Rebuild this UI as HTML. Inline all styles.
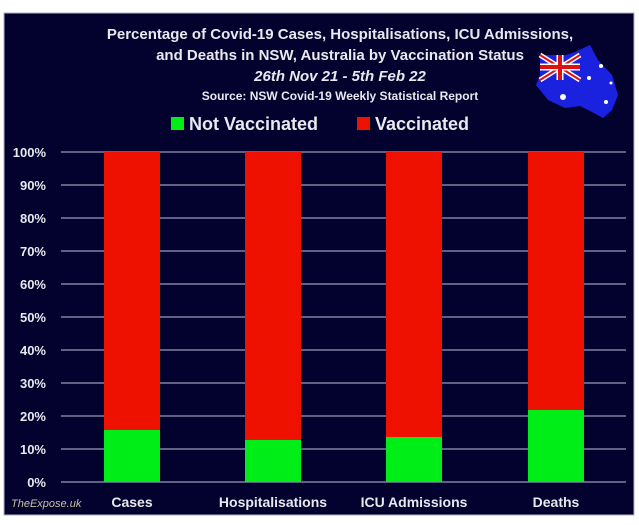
<!DOCTYPE html>
<html><head><style>
body{margin:0;background:#fff;width:639px;height:520px;overflow:hidden;font-family:"Liberation Sans",sans-serif}
</style></head><body>
<svg width="639" height="520" xmlns="http://www.w3.org/2000/svg" font-family="Liberation Sans, sans-serif">
<rect x="4" y="13" width="630" height="502" fill="#03022e" stroke="#b0b0c0" stroke-width="1"/>
<g fill="#e8e8ee" text-anchor="middle" font-weight="bold">
<text x="340" y="39" font-size="15">Percentage of Covid-19 Cases, Hospitalisations, ICU Admissions,</text>
<text x="340" y="60" font-size="15">and Deaths in NSW, Australia by Vaccination Status</text>
<text x="340" y="81" font-size="15" font-style="italic">26th Nov 21 - 5th Feb 22</text>
<text x="340" y="100" font-size="12">Source: NSW Covid-19 Weekly Statistical Report</text>
</g>
<rect x="171" y="117" width="13" height="13" fill="#00ee18"/>
<text x="189" y="130" font-size="18" font-weight="bold" fill="#e8e8ee">Not Vaccinated</text>
<rect x="357" y="117" width="13" height="13" fill="#ee1100"/>
<text x="375" y="130" font-size="18" font-weight="bold" fill="#e8e8ee">Vaccinated</text>
<!-- flag/map -->
<path d="M545 62 L575 52 L590 45 L598 60 L612 75 L618 95 L612 110 L603 118 L592 112 L580 106 L565 108 L548 100 L536 85 Z" fill="#1a22e0"/>
<rect x="540" y="55" width="40" height="25" fill="#1a22e0"/>
<path d="M540 55 L580 80 M580 55 L540 80" stroke="#fff" stroke-width="5"/>
<path d="M540 55 L580 80 M580 55 L540 80" stroke="#e01010" stroke-width="2"/>
<path d="M560 55 V80 M540 67 H580" stroke="#fff" stroke-width="7"/>
<path d="M560 55 V80 M540 67 H580" stroke="#e01010" stroke-width="4"/>
<g fill="#fff"><circle cx="563" cy="97" r="3"/><circle cx="601" cy="66" r="2"/><circle cx="589" cy="78" r="2"/><circle cx="611" cy="83" r="1.5"/><circle cx="606" cy="102" r="2"/></g>
<g stroke="#8080a0" stroke-width="1.5">
<line x1="61" x2="626" y1="152" y2="152"/><line x1="61" x2="626" y1="185" y2="185"/>
<line x1="61" x2="626" y1="218" y2="218"/><line x1="61" x2="626" y1="251" y2="251"/>
<line x1="61" x2="626" y1="284" y2="284"/><line x1="61" x2="626" y1="317" y2="317"/>
<line x1="61" x2="626" y1="350" y2="350"/><line x1="61" x2="626" y1="383" y2="383"/>
<line x1="61" x2="626" y1="416" y2="416"/><line x1="61" x2="626" y1="449" y2="449"/>
<line x1="61" x2="626" y1="482" y2="482"/>
</g>
<g fill="#e8e8ee" font-size="13" font-weight="bold" text-anchor="end">
<text x="46" y="157">100%</text><text x="46" y="190">90%</text><text x="46" y="223">80%</text>
<text x="46" y="256">70%</text><text x="46" y="289">60%</text><text x="46" y="322">50%</text>
<text x="46" y="355">40%</text><text x="46" y="388">30%</text><text x="46" y="421">20%</text>
<text x="46" y="454">10%</text><text x="46" y="487">0%</text>
</g>
<g fill="#ee1100"><rect x="104" y="152" width="56" height="278"/><rect x="245" y="152" width="56" height="288"/><rect x="386" y="152" width="56" height="285"/><rect x="528" y="152" width="56" height="258"/></g>
<g fill="#00ee18"><rect x="104" y="430" width="56" height="52"/><rect x="245" y="440" width="56" height="42"/><rect x="386" y="437" width="56" height="45"/><rect x="528" y="410" width="56" height="72"/></g>
<g fill="#e8e8ee" font-size="14" font-weight="bold" text-anchor="middle">
<text x="132" y="507">Cases</text><text x="273" y="507">Hospitalisations</text>
<text x="414" y="507">ICU Admissions</text><text x="556" y="507">Deaths</text>
</g>
<text x="11" y="507" font-size="11" font-style="italic" fill="#c8c0a0">TheExpose.uk</text>
</svg>
</body></html>
